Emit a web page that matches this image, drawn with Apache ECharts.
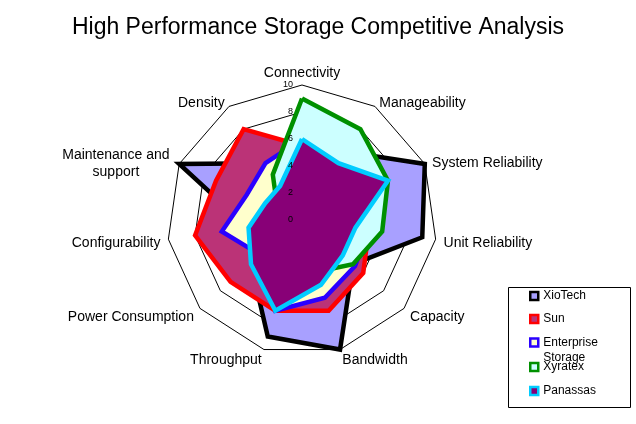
<!DOCTYPE html>
<html><head><meta charset="utf-8">
<script src="https://cdn.jsdelivr.net/npm/echarts@6/dist/echarts.min.js"></script>
<style>html,body{margin:0;padding:0;background:#fff}#c{width:636px;height:424px}</style>
</head><body><div id="c"></div>
<script>
// Categories listed clockwise from the top
const categories = ['Connectivity','Manageability','System Reliability','Unit Reliability','Capacity','Bandwidth','Throughput','Power Consumption','Configurability','Maintenance and support','Density'];
const seriesNames = ['XioTech','Sun','Enterprise Storage','Xyratex','Panassas'];
const xiotech    = [5, 6, 10, 9, 5, 10, 9, 5, 4, 10, 5];
const sun        = [5.5, 6, 6, 5, 6, 7, 7, 7, 8, 7, 8];
const enterprise = [6, 5, 5, 5, 5.2, 6, 7, 4, 6, 4.5, 5];
const xyratex    = [9, 8, 7, 6, 5, 4, 4, 3, 3, 2, 4];
const panassas   = [6, 5, 7, 4, 4, 5, 7, 5, 4, 3, 3];
const axisMin = 0, axisMax = 10, axisSplits = 5;

const lineColors = ['#000000','#FF0000','#2A00FF','#009000','#00CCFF'];
const fillColors = ['#A8A0FF','#BB3377','#FFFFCC','#CCFFFF','#880077'];
const legendCenters = [295, 318, 341, 366, 390];

const FONT = 'Liberation Sans, Arial, sans-serif';
// ECharts lays indicators counter-clockwise; reorder so the picture reads clockwise
const ccw = a => [a[0]].concat(a.slice(1).reverse());
const allValues = [xiotech, sun, enterprise, xyratex, panassas];

const chart = echarts.init(document.getElementById('c'), null, {renderer: 'canvas'});

const baseRadar = {
  center: [302, 220], radius: 135, startAngle: 90, shape: 'polygon', splitNumber: axisSplits
};

const legends = seriesNames.map((n, i) => {
  const isEnt = n === 'Enterprise Storage';
  return {
    data: [{name: n, itemStyle: {color: fillColors[i], borderColor: lineColors[i], borderWidth: 2.5}}],
    orient: 'vertical', left: 529, top: isEnt ? legendCenters[i] - 21 : legendCenters[i] - 5,
    padding: 0, itemWidth: 8, itemHeight: 8, icon: 'rect', selectedMode: false,
    formatter: isEnt ? '\nEnterprise\nStorage' : '{name}',
    textStyle: isEnt
      ? {fontSize: 12, fontFamily: FONT, color: '#000', lineHeight: 15}
      : {fontSize: 12, fontFamily: FONT, color: '#000'}
  };
});

// each competitor: filled area first, then its outline on top of it
const series = [];
seriesNames.forEach((n, i) => {
  series.push({
    type: 'radar', name: n, radarIndex: 0, symbol: 'none', silent: true,
    lineStyle: {width: 0, opacity: 0},
    areaStyle: {color: fillColors[i], opacity: 1},
    itemStyle: {color: lineColors[i]},
    data: [{name: n, value: ccw(allValues[i])}]
  });
  series.push({
    type: 'radar', name: n, radarIndex: 0, symbol: 'none', silent: true,
    lineStyle: {color: lineColors[i], width: 4.5, join: 'miter'},
    itemStyle: {color: lineColors[i]},
    data: [{name: n, value: ccw(allValues[i])}]
  });
});

const option = {
  backgroundColor: '#fff',
  animation: false,
  title: {
    text: 'High Performance Storage Competitive Analysis',
    left: 'center', top: 11,
    textStyle: {fontSize: 23, fontWeight: 'normal', fontFamily: FONT, color: '#000'}
  },
  legend: legends,
  graphic: [{
    type: 'rect', left: 508, top: 287, z: -1,
    shape: {width: 122, height: 120},
    style: {fill: '#fff', stroke: '#000', lineWidth: 1}
  }],
  radar: [
    Object.assign({}, baseRadar, {
      z: 0,
      indicator: ccw(categories).map(n => ({name: n, min: axisMin, max: axisMax})),
      axisName: {
        color: '#000', fontSize: 14, fontFamily: FONT, padding: [3, 0, -3, 0],
        formatter: v => v === 'Maintenance and support' ? '{c|Maintenance and}\n{c|support}' : v,
        rich: {c: {width: 112, align: 'center', fontSize: 14, fontFamily: FONT, color: '#000', lineHeight: 17}}
      },
      nameGap: 8,
      splitLine: {lineStyle: {color: '#000', width: 1}},
      splitArea: {show: false},
      axisLine: {show: false},
      axisTick: {show: false},
      axisLabel: {show: false}
    }),
    Object.assign({}, baseRadar, {
      z: 10,
      indicator: ccw(categories).map((n, i) => {
        const o = {name: n, min: axisMin, max: axisMax};
        if (i === 0) o.axisLabel = {show: true};
        return o;
      }),
      axisName: {show: false},
      splitLine: {show: false},
      splitArea: {show: false},
      axisLine: {show: false},
      axisTick: {show: false},
      axisLabel: {show: false, color: '#000', fontSize: 9, fontFamily: FONT, margin: 9, showMinLabel: true, showMaxLabel: true}
    })
  ],
  series: series
};
chart.setOption(option);
</script></body></html>
